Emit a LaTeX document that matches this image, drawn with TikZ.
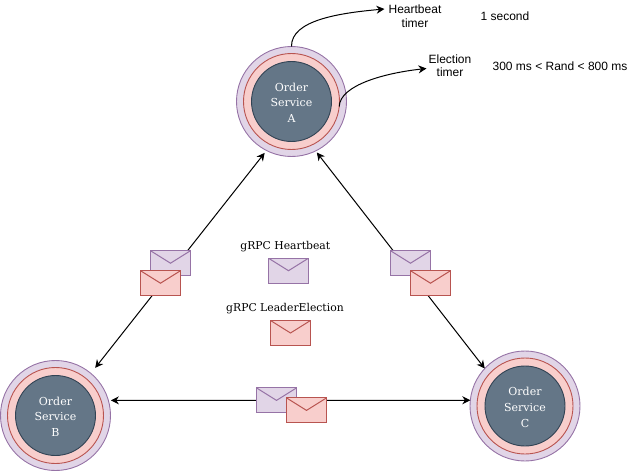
\documentclass[tikz,border=0pt]{standalone}
\usepackage{fontspec}
\setmainfont{Liberation Sans}
\newfontfamily\labelfont{DejaVu Serif}
\usetikzlibrary{shapes,arrows,arrows.meta}
\definecolor{purplefill}{HTML}{E1D5E7}
\definecolor{purpleline}{HTML}{9673A6}
\definecolor{redfill}{HTML}{F8CECC}
\definecolor{redline}{HTML}{B85450}
\definecolor{corefill}{HTML}{647687}
\definecolor{coreline}{HTML}{314354}
\tikzstyle{ring} = [circle, draw, outer sep=0pt, inner sep=0pt, line width=0.9pt]
\tikzstyle{outerring} = [ring, draw=purpleline, fill=purplefill, minimum size=110pt]
\tikzstyle{midring} = [ring, draw=redline, fill=redfill, minimum size=96pt]
\tikzstyle{core} = [ring, draw=coreline, fill=corefill, minimum size=80pt]
\tikzstyle{corelabel} = [inner sep=0pt, yshift=-1.3pt, text=white,
    align=center, font=\labelfont\fontsize{11}{15.7}\selectfont]
\tikzstyle{mail} = [rectangle, draw, outer sep=0pt, inner sep=0pt, line width=1pt,
    minimum width=40pt, minimum height=25pt,
    path picture={\draw (path picture bounding box.north west)
        -- (path picture bounding box.center) -- (path picture bounding box.north east);}]
\tikzstyle{mailhb} = [mail, draw=purpleline, fill=purplefill]
\tikzstyle{mailel} = [mail, draw=redline, fill=redfill]
\tikzstyle{arrow} = [line width=1pt,>={Stealth[length=8pt,width=8pt]}]
\tikzstyle{timer} = [align=center, inner sep=0pt, font=\fontsize{12}{13.5}\selectfont]
\tikzstyle{legend} = [inner sep=0pt, font=\labelfont\fontsize{10.8}{14}\selectfont]
\begin{document}
\begin{tikzpicture}[x=1pt, y=-1pt]
		\useasboundingbox (0,0) rectangle (641,471);
		% draw the three services first
		\node [outerring] (outerA) at (291.5,101.5) {};
		\node [midring] (midA) at (outerA) {};
		\node [core] (coreA) at (outerA) {};
		\node [corelabel] (labelA) at (outerA) {Order\\Service\\A};
		\node [outerring] (outerB) at (55.5,415.5) {};
		\node [midring] (midB) at (outerB) {};
		\node [core] (coreB) at (outerB) {};
		\node [corelabel] (labelB) at (outerB) {Order\\Service\\B};
		\node [outerring] (outerC) at (525,406) {};
		\node [midring] (midC) at (outerC) {};
		\node [core] (coreC) at (outerC) {};
		\node [corelabel] (labelC) at (outerC) {Order\\Service\\C};

		% draw the timer texts
		\node [timer] (heartbeat) at (415,16) {Heartbeat\\timer};
		\node [timer] (election) at (450,65.5) {Election\\timer};
		\node [timer] (second) at (505,16) {1 second};
		\node [timer] (rand) at (560,66) {300 ms < Rand < 800 ms};

		% draw the edges connecting the services
		\draw [arrow, <->, shorten <=3pt, shorten >=7pt] (outerA.243) -- (outerB.50);
		\draw [arrow, <->, shorten <=2pt] (outerA.-64) -- (outerC.137);
		\draw [arrow, <->, shorten <=2.5pt] (outerB.16) -- (outerC.174);

		% draw the edges to the timers
		\draw [arrow, ->] (outerA.north) .. controls (291,20) and (340,13) .. ([xshift=-4pt,yshift=7pt]heartbeat.west);
		\draw [arrow, ->] (midA.-6) .. controls (340,85) and (385,73) .. ([xshift=-2pt,yshift=-3pt]election.west);

		% draw the messages on top of the edges
		\node [mailhb] (hbleft) at (170.5,263.2) {};
		\node [mailel] (elleft) at (160.5,283.2) {};
		\node [mailhb] (hbright) at (410.5,263.2) {};
		\node [mailel] (elright) at (430.5,283.2) {};
		\node [mailhb] (hbbottom) at (276.5,400.4) {};
		\node [mailel] (elbottom) at (306.5,410.4) {};

		% draw the legend
		\node [legend] (legendhb) at (285.3,246.7) {gRPC Heartbeat};
		\node [mailhb] (mailhb) at (288.5,270.7) {};
		\node [legend] (legendel) at (285,308.5) {gRPC LeaderElection};
		\node [mailel] (mailel) at (290.5,333) {};
	\end{tikzpicture}
\end{document}
